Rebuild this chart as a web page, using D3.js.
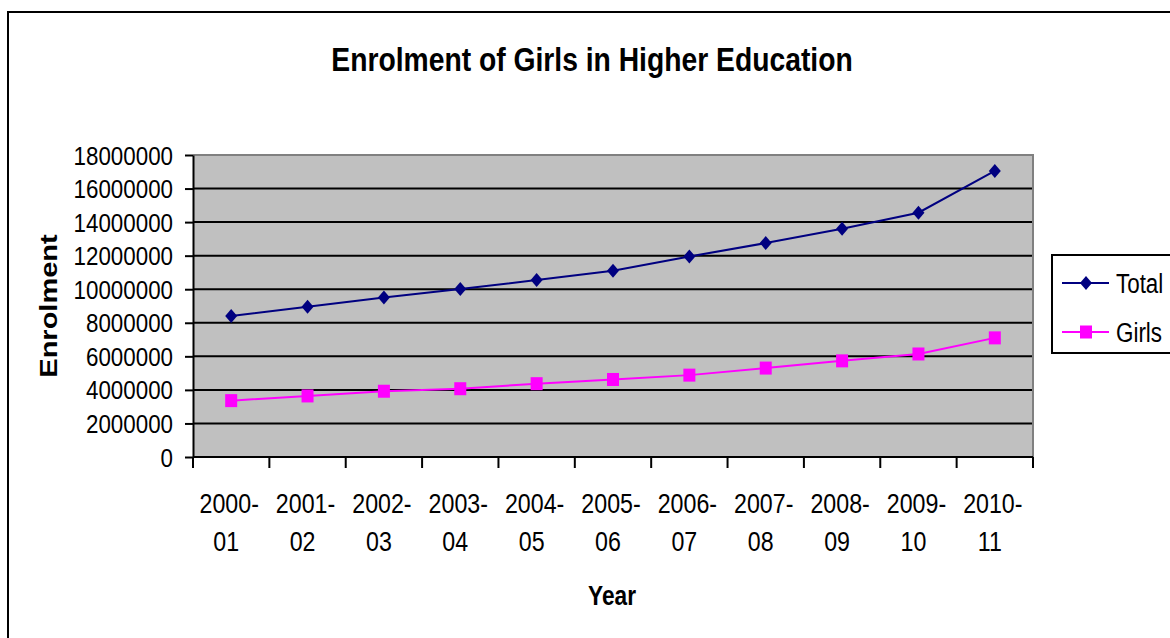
<!DOCTYPE html>
<html>
<head>
<meta charset="utf-8">
<script src="https://cdn.jsdelivr.net/npm/d3@7"></script>
<style>
  html, body { margin: 0; padding: 0; background: #fff; }
  svg { display: block; }
  text { font-family: "Liberation Sans", Arial, sans-serif; fill: #000; }
</style>
</head>
<body>
<svg id="chart" width="1170" height="638"></svg>
<script>
const years = ["2000-01","2001-02","2002-03","2003-04","2004-05","2005-06","2006-07","2007-08","2008-09","2009-10","2010-11"];
const totalValues = [8400000, 8960000, 9500000, 10010000, 10550000, 11100000, 11950000, 12750000, 13600000, 14560000, 17050000];
const girlsValues = [3360000, 3640000, 3920000, 4070000, 4370000, 4620000, 4880000, 5300000, 5730000, 6140000, 7100000];
const yTicks = [0, 2000000, 4000000, 6000000, 8000000, 10000000, 12000000, 14000000, 16000000, 18000000];
const seriesNames = ["Total", "Girls"];

const svg = d3.select("#chart");
const W = 1170, H = 638;
const plot = {left: 193, right: 1033, top: 155, bottom: 457};
const SX = 0.86;

// outer chart border
svg.append("rect").attr("x", 8).attr("y", 12).attr("width", 1180).attr("height", 700)
  .attr("fill", "#fff").attr("stroke", "#000").attr("stroke-width", 2);

const x = d3.scaleBand().domain(years).range([plot.left, plot.right]).padding(0);
const y = d3.scaleLinear().domain([0, 18000000]).range([plot.bottom, plot.top]);

// plot background
svg.append("rect").attr("x", plot.left).attr("y", plot.top)
  .attr("width", plot.right - plot.left).attr("height", plot.bottom - plot.top)
  .attr("fill", "#C0C0C0");

// gridlines
svg.append("g").selectAll("line").data(yTicks.filter(d => d > 0 && d < 18000000)).join("line")
  .attr("x1", plot.left).attr("x2", plot.right)
  .attr("y1", d => y(d)).attr("y2", d => y(d))
  .attr("stroke", "#000").attr("stroke-width", 2);

// top & right gray border
svg.append("path")
  .attr("d", `M${plot.left},${y(18000000)}H${plot.right}V${plot.bottom}`)
  .attr("fill", "none").attr("stroke", "#808080").attr("stroke-width", 2);

// y axis
const yAxis = svg.append("g").attr("transform", `translate(${plot.left},0)`)
  .call(d3.axisLeft(y).tickValues(yTicks).tickSize(8).tickSizeOuter(0).tickFormat(d3.format("d")));
yAxis.select(".domain").attr("stroke", "#000").attr("stroke-width", 2);
yAxis.selectAll(".tick line").attr("stroke", "#000").attr("stroke-width", 2);
yAxis.selectAll(".tick text")
  .attr("x", null).attr("dy", null)
  .attr("transform", `translate(-20,9) scale(${SX},1)`)
  .attr("text-anchor", "end").attr("font-size", 26).attr("fill", "#000")
  .style("font-family", "'Liberation Sans', Arial, sans-serif");

// x axis (ticks at category boundaries)
const xg = svg.append("g");
xg.append("line").attr("x1", plot.left).attr("x2", plot.right)
  .attr("y1", plot.bottom).attr("y2", plot.bottom).attr("stroke", "#000").attr("stroke-width", 2);
const bounds = years.map(d => x(d)).concat([x(years[years.length - 1]) + x.bandwidth()]);
xg.selectAll("line.tk").data(bounds).join("line").attr("class", "tk")
  .attr("x1", d => d).attr("x2", d => d).attr("y1", plot.bottom).attr("y2", plot.bottom + 11)
  .attr("stroke", "#000").attr("stroke-width", 2);
const xl = xg.selectAll("g.lbl").data(years).join("g").attr("class", "lbl")
  .attr("transform", d => `translate(${x(d) + x.bandwidth() / 2 - 2},0)`);
xl.append("text").attr("transform", `translate(0,513) scale(${SX},1)`)
  .attr("text-anchor", "middle").attr("font-size", 27).text(d => d.split("-")[0] + "-");
xl.append("text").attr("transform", `translate(-3,551) scale(${SX},1)`)
  .attr("text-anchor", "middle").attr("font-size", 27).text(d => d.split("-")[1]);

// lines
const colors = {Total: "#000080", Girls: "#FF00FF"};
const data = {Total: totalValues, Girls: girlsValues};
const line = d3.line().x((d, i) => x(years[i]) + x.bandwidth() / 2).y(d => y(d));
seriesNames.forEach(s => {
  svg.append("path").datum(data[s]).attr("d", line)
    .attr("fill", "none").attr("stroke", colors[s]).attr("stroke-width", 2);
});

function marker(g, s, cx, cy) {
  if (s === "Total") {
    g.append("path").attr("d", `M${cx},${cy - 7}L${cx + 6},${cy}L${cx},${cy + 7}L${cx - 6},${cy}Z`)
      .attr("fill", colors[s]);
  } else {
    g.append("rect").attr("x", cx - 6).attr("y", cy - 6.5).attr("width", 12).attr("height", 13)
      .attr("fill", colors[s]);
  }
}
seriesNames.forEach(s => {
  const g = svg.append("g");
  data[s].forEach((v, i) => marker(g, s, x(years[i]) + x.bandwidth() / 2, y(v)));
});

// title
svg.append("text").attr("transform", `translate(592,71) scale(0.87,1)`)
  .attr("text-anchor", "middle").attr("font-size", 32.5).attr("font-weight", "bold")
  .text("Enrolment of Girls in Higher Education");

// axis titles
svg.append("text").attr("transform", `translate(612,605) scale(0.84,1)`)
  .attr("text-anchor", "middle").attr("font-size", 27).attr("font-weight", "bold").text("Year");
svg.append("text").attr("transform", `translate(57,306) rotate(-90) scale(1,0.8)`)
  .attr("text-anchor", "middle").attr("font-size", 29).attr("font-weight", "bold").text("Enrolment");

// legend
const lg = svg.append("g");
lg.append("rect").attr("x", 1052).attr("y", 255).attr("width", 130).attr("height", 98)
  .attr("fill", "#fff").attr("stroke", "#000").attr("stroke-width", 2);
seriesNames.forEach((s, i) => {
  const cy = [283, 332][i];
  lg.append("line").attr("x1", 1062).attr("x2", 1109).attr("y1", cy).attr("y2", cy)
    .attr("stroke", colors[s]).attr("stroke-width", 2);
  marker(lg, s, 1086, cy);
  lg.append("text").attr("transform", `translate(1116,${cy + 10}) scale(0.8,1)`)
    .attr("font-size", 28).text(s);
});
</script>
</body>
</html>
